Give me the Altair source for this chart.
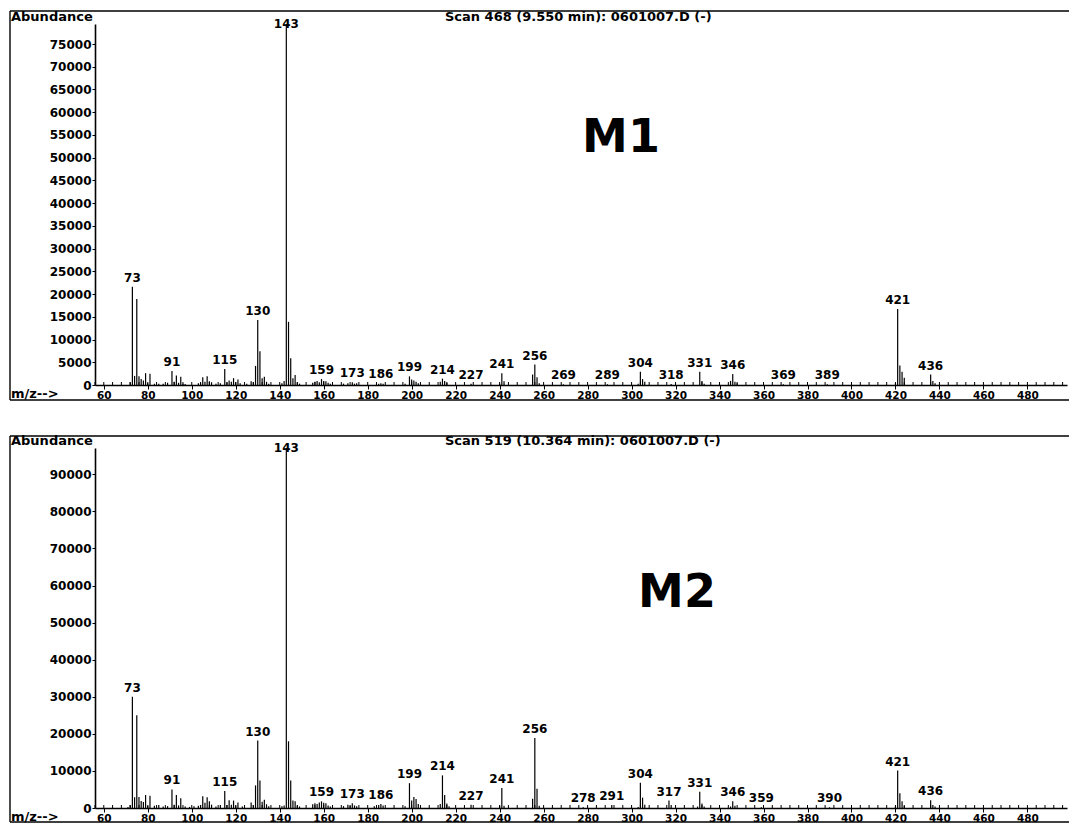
import altair as alt
import pandas as pd

# ---- Scan 468 (9.550 min) : M1 ----
m1_mz = [72, 73, 74, 75, 76, 77, 78, 79, 80, 81, 83, 85, 87, 89, 91, 92, 93, 94, 95, 96, 97,
         103, 104, 105, 106, 107, 108, 109, 111, 113, 115, 116, 117, 118, 119, 120, 121, 122,
         125, 127, 128, 129, 130, 131, 132, 133, 134, 135, 141, 142, 143, 144, 145, 146, 147,
         148, 149, 155, 156, 157, 158, 159, 160, 161, 162, 163, 169, 171, 173, 174, 175, 185,
         186, 187, 197, 199, 200, 201, 202, 203, 213, 214, 215, 216, 227, 240, 241, 242, 255,
         256, 257, 258, 269, 289, 303, 304, 305, 306, 318, 331, 332, 333, 345, 346, 347, 348,
         369, 389, 420, 421, 422, 423, 424, 436, 437, 438]
m1_ab = [600, 21600, 2000, 18900, 1900, 1300, 1000, 2600, 400, 2500, 300, 300, 300, 500, 3100,
         700, 2100, 500, 1800, 300, 200,
         400, 500, 1700, 700, 1900, 800, 600, 300, 400, 3500, 600, 1000, 700, 1500, 600, 1200, 400,
         300, 800, 600, 4200, 14300, 7400, 1500, 1800, 700, 300, 400, 900, 79400, 13900, 5900, 1500,
         2200, 600, 300, 500, 700, 900, 600, 1300, 900, 800, 500, 300, 300, 400, 600, 300, 400, 300,
         400, 300, 300, 1900, 1200, 1000, 700, 400, 700, 1400, 900, 500, 300, 300, 2600, 800, 2300,
         4500, 1700, 400, 150, 150, 300, 2900, 1300, 700, 200, 2900, 900, 300, 900, 2400, 700, 400,
         150, 150, 400, 16700, 4300, 2900, 1600, 2300, 900, 400]
m1_labels = [73, 91, 115, 130, 143, 159, 173, 186, 199, 214, 227, 241, 256, 269, 289, 304, 318,
             331, 346, 369, 389, 421, 436]
m1_yticks = list(range(0, 75001, 5000))

# ---- Scan 519 (10.364 min) : M2 ----
m2_mz = [71, 72, 73, 74, 75, 76, 77, 78, 79, 80, 81, 83, 85, 87, 89, 91, 92, 93, 94, 95, 97, 99,
         101, 103, 104, 105, 106, 107, 108, 109, 111, 113, 115, 116, 117, 118, 119, 120, 121, 123,
         127, 128, 129, 130, 131, 132, 133, 134, 135, 141, 142, 143, 144, 145, 146, 147, 148, 149,
         155, 156, 157, 158, 159, 160, 161, 162, 163, 169, 171, 172, 173, 174, 175, 183, 185, 186,
         187, 197, 199, 200, 201, 202, 203, 213, 214, 215, 216, 217, 227, 240, 241, 242, 255, 256,
         257, 258, 278, 291, 303, 304, 305, 306, 317, 318, 330, 331, 332, 333, 345, 346, 347, 359,
         390, 420, 421, 422, 423, 424, 436, 437, 438]
m2_ab = [300, 800, 30000, 2900, 25000, 3000, 1900, 1600, 3500, 600, 3300, 600, 800, 400, 500, 5000,
         900, 3500, 700, 2600, 400, 300,
         500, 600, 800, 3200, 1400, 2900, 1800, 900, 400, 800, 4600, 800, 2100, 900, 2000, 700, 1500,
         400, 1500, 800, 6100, 18200, 7400, 1700, 2200, 1000, 500, 500, 700, 97100, 18000, 7400, 2000,
         1800, 700, 400, 1000, 1300, 1100, 1500, 1800, 1400, 1300, 700, 400, 500, 900, 600, 1300, 700,
         500, 500, 800, 1100, 700, 500, 6700, 2000, 3000, 2400, 1100, 1100, 8800, 3500, 1200, 500, 900,
         700, 5400, 600, 2500, 18900, 5200, 600, 200, 800, 300, 6800, 2800, 900, 2000, 800, 400, 4400,
         1200, 400, 400, 1800, 600, 200, 200, 500, 10100, 4000, 1800, 600, 2100, 800, 400]
m2_labels = [73, 91, 115, 130, 143, 159, 173, 186, 199, 214, 227, 241, 256, 278, 291, 304, 317,
             331, 346, 359, 390, 421, 436]
m2_yticks = list(range(0, 90001, 10000))

mz_ticks = list(range(60, 481, 20))
mz_minor = list(range(56, 499, 4))

FONT = "DejaVu Sans"
W = 972


def one_row(**kw):
    return pd.DataFrame({k: [v] for k, v in kw.items()})


def panel(mz, ab, labels, yticks, title, tag, tag_x, tag_y, h, top, bottom):
    ymax = max(ab)
    df = pd.DataFrame({"mz": mz, "ab": ab})
    xs = alt.Scale(domain=[56, 498], nice=False, zero=False)
    ys = alt.Scale(domain=[0, ymax], nice=False)
    x_axis = alt.Axis(values=mz_ticks, format="d", tickSize=4, labelPadding=1,
                      labelFont=FONT, labelFontWeight="bold", labelFontSize=10.5,
                      labelColor="black", domainColor="black", domainWidth=1.3,
                      tickColor="black", grid=False, labelFlush=False, labelOverlap=False)
    y_axis = alt.Axis(values=yticks, format="d", tickSize=3, labelPadding=1,
                      labelFont=FONT, labelFontWeight="bold", labelFontSize=12,
                      labelColor="black", domainColor="black", domainWidth=1.6,
                      tickColor="black", grid=False, labelFlush=False, labelOverlap=False)

    bars = alt.Chart(df).mark_rule(color="black", strokeWidth=1.2).encode(
        x=alt.X("mz:Q", scale=xs, title=None, axis=x_axis),
        y=alt.Y("ab:Q", scale=ys, title=None, axis=y_axis),
        y2=alt.datum(0),
    )

    # minor ticks along the m/z axis, standing on the baseline
    minor = alt.Chart(pd.DataFrame({"mz": mz_minor})).mark_rule(
        color="black", strokeWidth=1).encode(
        x=alt.X("mz:Q", scale=xs, title=None, axis=x_axis),
        y=alt.value(h - 3), y2=alt.value(h),
    )

    lab_df = df[df["mz"].isin(labels)]
    peak_labels = alt.Chart(lab_df).transform_calculate(
        ly=f"min(datum.ab, {0.975 * ymax})"
    ).mark_text(font=FONT, fontWeight="bold", fontSize=12, color="black",
                baseline="bottom", dy=-2).encode(
        x=alt.X("mz:Q", scale=xs, title=None, axis=x_axis),
        y=alt.Y("ly:Q", scale=ys, title=None, axis=y_axis),
        text=alt.Text("mz:Q", format="d"),
    )

    def note(text, x, y, size, align="left", weight="bold"):
        return alt.Chart(one_row(t=text)).mark_text(
            font=FONT, fontWeight=weight, fontSize=size, color="black",
            align=align, baseline="alphabetic").encode(
            x=alt.value(x), y=alt.value(y), text="t:N")

    # printout frame: straight segments between two pixel points
    def segment(x1, y1, x2, y2):
        return alt.Chart(one_row(k=0)).mark_rule(color="black", strokeWidth=1.4).encode(
            x=alt.value(x1), y=alt.value(y1), x2=alt.value(x2), y2=alt.value(y2))

    layers = [
        segment(-85, top, 974, top),
        segment(-85, top, -85, bottom),
        segment(-85, bottom, 974, bottom),
        bars,
        minor,
        peak_labels,
        note("Abundance", -84, -3, 13),
        note(title, 350, -3, 13),
        note("m/z-->", -84, h + 13, 13),
        note(tag, tag_x, tag_y, 46, align="center"),
    ]
    return alt.layer(*layers).properties(width=W, height=h)


top_panel = panel(m1_mz, m1_ab, m1_labels, m1_yticks,
                  "Scan 468 (9.550 min): 0601007.D (-)", "M1", 526, 128, 361, -13, 376)
bottom_panel = panel(m2_mz, m2_ab, m2_labels, m2_yticks,
                     "Scan 519 (10.364 min): 0601007.D (-)", "M2", 582, 159, 360, -12, 374)

chart = alt.vconcat(top_panel, bottom_panel, spacing=34).properties(
    padding={"left": 9, "top": 10, "right": 0, "bottom": 0},
    background="white",
).configure_view(stroke=None)

chart.save("out.html", embed_options={"renderer": "svg", "actions": False})
